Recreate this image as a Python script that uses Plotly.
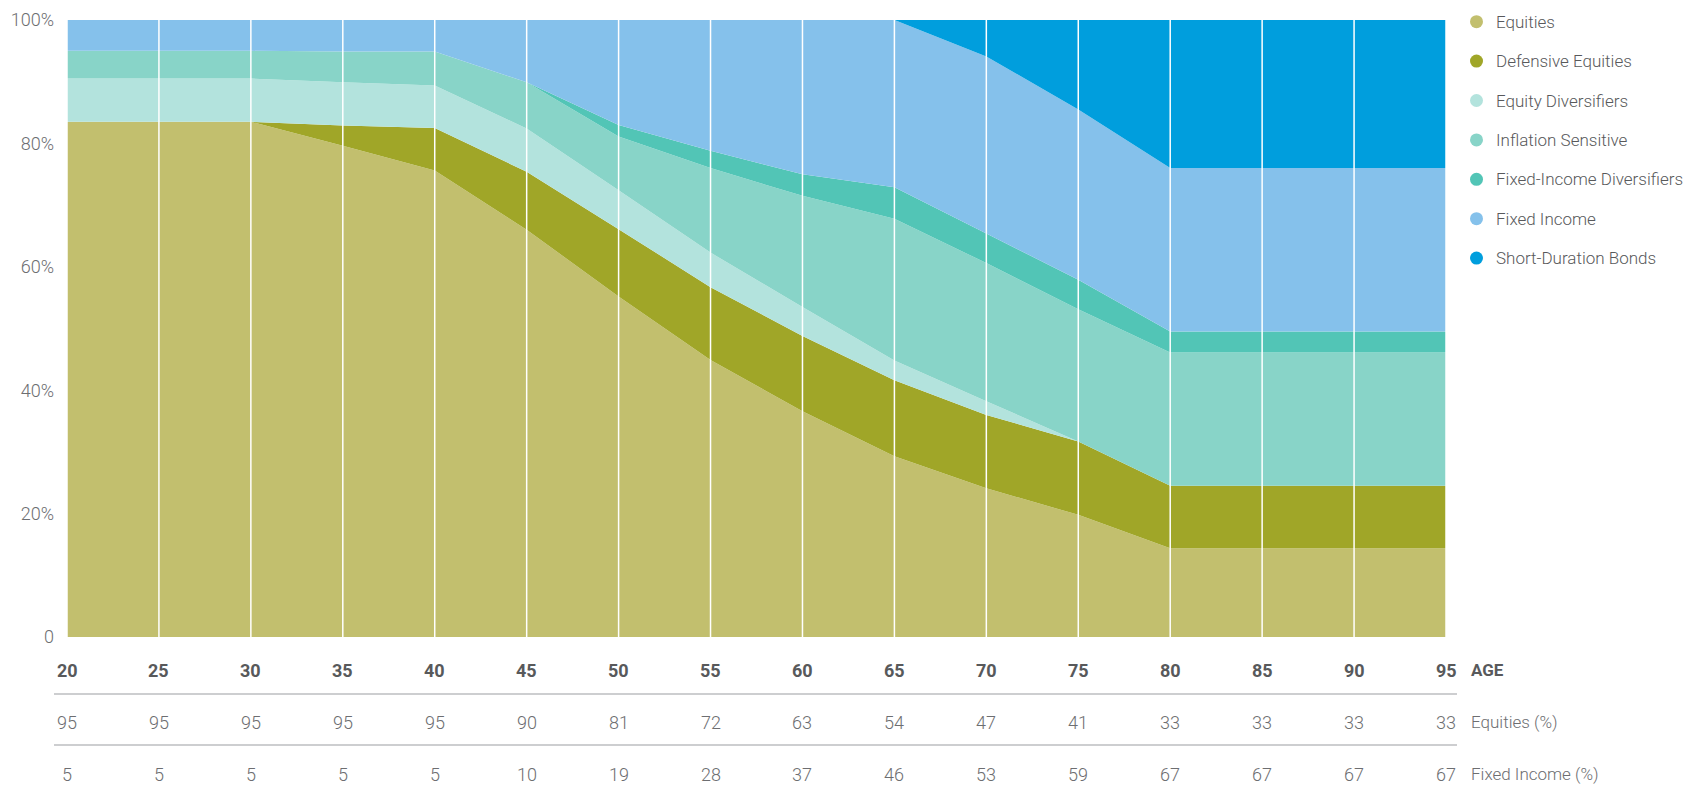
import plotly.graph_objects as go

ages = [20, 25, 30, 35, 40, 45, 50, 55, 60, 65, 70, 75, 80, 85, 90, 95]

equities = [83.5, 83.5, 83.5, 79.6, 75.6, 66.0, 55.2, 44.9, 36.6, 29.3, 24.1, 19.8, 14.4, 14.4, 14.4, 14.4]
defensive_equities = [0, 0, 0, 3.3, 6.9, 9.4, 10.9, 11.8, 12.2, 12.3, 11.9, 11.9, 10.1, 10.1, 10.1, 10.1]
equity_diversifiers = [7.0, 7.0, 7.0, 7.0, 6.9, 7.0, 6.3, 5.6, 4.7, 3.2, 2.2, 0, 0, 0, 0, 0]
inflation_sensitive = [4.5, 4.5, 4.5, 5.0, 5.5, 7.5, 8.7, 13.7, 18.0, 23.0, 22.4, 21.4, 21.6, 21.6, 21.6, 21.6]
fixed_income_diversifiers = [0, 0, 0, 0, 0, 0, 1.9, 2.8, 3.5, 5.1, 4.8, 4.8, 3.4, 3.4, 3.4, 3.4]
fixed_income = [5.0, 5.0, 5.0, 5.1, 5.1, 10.1, 17.0, 21.2, 25.0, 27.1, 28.7, 27.6, 26.5, 26.5, 26.5, 26.5]
short_duration_bonds = [0, 0, 0, 0, 0, 0, 0, 0, 0, 0, 5.9, 14.5, 24.0, 24.0, 24.0, 24.0]

equities_pct_row = [95, 95, 95, 95, 95, 90, 81, 72, 63, 54, 47, 41, 33, 33, 33, 33]
fixed_income_pct_row = [5, 5, 5, 5, 5, 10, 19, 28, 37, 46, 53, 59, 67, 67, 67, 67]

series_names = ["Equities", "Defensive Equities", "Equity Diversifiers", "Inflation Sensitive",
                "Fixed-Income Diversifiers", "Fixed Income", "Short-Duration Bonds"]
series_values = [equities, defensive_equities, equity_diversifiers, inflation_sensitive,
                 fixed_income_diversifiers, fixed_income, short_duration_bonds]
colors = ["#C2BF6E", "#A0A628", "#B3E3DD", "#88D4C8", "#52C5B6", "#85C1EB", "#009EDD"]

y_tickvals = [0, 20, 40, 60, 80, 100]
y_ticktext = ["0", "20%", "40%", "60%", "80%", "100%"]

FONT = "Roboto"
fig = go.Figure()

for name, vals, col in zip(series_names, series_values, colors):
    fig.add_trace(go.Scatter(
        x=ages, y=vals, stackgroup="one", mode="none",
        fillcolor=col, line=dict(width=0), name=name,
        showlegend=False, hoverinfo="x+y+name"))

# white vertical gridlines above areas
for a in ages:
    fig.add_shape(type="line", xref="x", yref="y domain", x0=a, x1=a, y0=0, y1=1,
                  line=dict(color="white", width=1.5), layer="above")

L, R, T, B = 59, 263, 12, 163
W, H = 1701, 792
pw, ph = W - L - R, H - T - B

def py(ypx):
    return 1 - (ypx - T) / ph

def px(xpx):
    return (xpx - L) / pw

# legend (circle markers + labels)
leg_y0, leg_dy = 13.7, 39.4
for i, (name, col) in enumerate(zip(series_names, colors)):
    yc = leg_y0 + i * leg_dy
    fig.add_shape(type="circle", xref="paper", yref="paper",
                  xsizemode="pixel", ysizemode="pixel",
                  xanchor=px(1468.5), yanchor=py(yc), x0=-6.5, x1=6.5, y0=-6.5, y1=6.5,
                  fillcolor=col, line=dict(width=0))
    fig.add_annotation(x=px(1486), y=py(yc), xref="paper", yref="paper", text=name,
                       showarrow=False, xanchor="left", yanchor="middle",
                       font=dict(family=FONT, size=17, color="#58595B", weight=300))

for a, e, f in zip(ages, equities_pct_row, fixed_income_pct_row):
    fig.add_annotation(x=a, y=py(662), xref="x", yref="paper", text=f"<b>{a}</b>",
                       showarrow=False, xanchor="center", yanchor="middle",
                       font=dict(family=FONT, size=18, color="#58595B"))
    fig.add_annotation(x=a, y=py(714), xref="x", yref="paper", text=str(e),
                       showarrow=False, xanchor="center", yanchor="middle",
                       font=dict(family=FONT, size=18, color="#6D6E71", weight=300))
    fig.add_annotation(x=a, y=py(766), xref="x", yref="paper", text=str(f),
                       showarrow=False, xanchor="center", yanchor="middle",
                       font=dict(family=FONT, size=18, color="#6D6E71", weight=300))

fig.add_annotation(x=px(1461), y=py(662), xref="paper", yref="paper", text="<b>AGE</b>",
                   showarrow=False, xanchor="left", yanchor="middle",
                   font=dict(family=FONT, size=17, color="#58595B"))
fig.add_annotation(x=px(1461), y=py(714), xref="paper", yref="paper", text="Equities (%)",
                   showarrow=False, xanchor="left", yanchor="middle",
                   font=dict(family=FONT, size=17, color="#6D6E71", weight=300))
fig.add_annotation(x=px(1461), y=py(766), xref="paper", yref="paper", text="Fixed Income (%)",
                   showarrow=False, xanchor="left", yanchor="middle",
                   font=dict(family=FONT, size=17, color="#6D6E71", weight=300))

for ypx in (686, 737):
    fig.add_shape(type="line", xref="paper", yref="paper", x0=px(46), x1=px(1449),
                  y0=py(ypx), y1=py(ypx), line=dict(color="#BCBEC0", width=1.5))

fig.update_layout(
    width=W, height=H,
    margin=dict(l=L, r=R, t=T, b=B, autoexpand=False),
    plot_bgcolor="white", paper_bgcolor="white",
    font=dict(family=FONT, color="#6D6E71"),
    xaxis=dict(range=[ages[0], ages[-1]], showgrid=False, zeroline=False,
               showticklabels=False, ticks="", showline=False, fixedrange=True),
    yaxis=dict(range=[0, 100], tickvals=y_tickvals, ticktext=y_ticktext,
               showgrid=False, zeroline=False, ticks="", showline=False,
               ticklabelstandoff=12, ticklabeloverflow="allow",
               tickfont=dict(family=FONT, size=18, color="#6D6E71", weight=300)),
    showlegend=False,
)

fig.write_html("out.html")
